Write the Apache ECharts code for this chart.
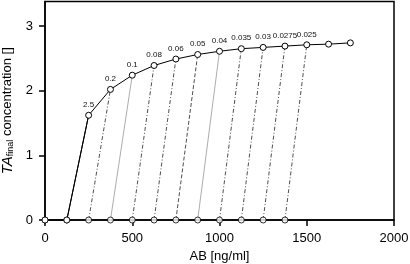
<!DOCTYPE html>
<html>
<head>
<meta charset="utf-8">
<script src="https://cdn.jsdelivr.net/npm/echarts@6/dist/echarts.min.js"></script>
<style>
  html, body { margin: 0; padding: 0; background: #fff; }
  #chart { width: 410px; height: 264px; }
</style>
</head>
<body>
<div id="chart"></div>
<script>
// points on the upper curve
var topX = [250, 375, 500, 625, 750, 875, 1000, 1125, 1250, 1375, 1500, 1625, 1750];
var topY = [1.62, 2.02, 2.24, 2.39, 2.49, 2.56, 2.61, 2.65, 2.67, 2.69, 2.71, 2.72, 2.74];
var topLabels = ['2.5', '0.2', '0.1', '0.08', '0.06', '0.05', '0.04', '0.035', '0.03', '0.0275', '0.025', '', ''];
// points on the x axis
var baseX = [0, 125, 250, 375, 500, 625, 750, 875, 1000, 1125, 1250, 1375];
var xTicks = [0, 500, 1000, 1500, 2000];
var yTicks = [0, 1, 2, 3];

// line look for each connector (from base point to labelled point)
var dashDot = [4, 2, 1, 2];
var connStyles = [
  { color: '#000', type: 'solid', width: 1 },
  { color: '#222', type: dashDot, width: 0.8 },
  { color: '#888', type: 'solid', width: 0.7 },
  { color: '#222', type: dashDot, width: 0.8 },
  { color: '#222', type: dashDot, width: 0.8 },
  { color: '#222', type: [4, 2], width: 0.8 },
  { color: '#888', type: 'solid', width: 0.7 },
  { color: '#222', type: dashDot, width: 0.8 },
  { color: '#222', type: dashDot, width: 0.8 },
  { color: '#222', type: dashDot, width: 0.8 },
  { color: '#222', type: dashDot, width: 0.8 }
];

var chart = echarts.init(document.getElementById('chart'));

var series = [];
for (var i = 0; i < connStyles.length; i++) {
  series.push({
    type: 'line',
    data: [[baseX[i + 1], 0], [topX[i], topY[i]]],
    symbol: 'none',
    lineStyle: connStyles[i],
    silent: true,
    animation: false,
    z: 2
  });
}

// main curve
var mainData = [
  { value: [baseX[0], 0], label: { show: false } },
  { value: [baseX[1], 0], label: { show: false } }
];
for (var j = 0; j < topX.length; j++) {
  mainData.push({ value: [topX[j], topY[j]], label: { formatter: topLabels[j] } });
}
series.push({
  type: 'line',
  data: mainData,
  symbol: 'circle',
  symbolSize: 6,
  showAllSymbol: true,
  itemStyle: { color: '#fff', borderColor: '#000', borderWidth: 1 },
  lineStyle: { color: '#000', width: 1 },
  label: {
    show: true,
    position: 'top',
    distance: 3,
    fontSize: 8,
    fontFamily: 'Liberation Sans',
    color: '#111'
  },
  clip: false,
  animation: false,
  z: 5
});

// base points
series.push({
  type: 'scatter',
  data: baseX.map(function (x) { return [x, 0]; }),
  symbol: 'circle',
  symbolSize: 6,
  itemStyle: { color: '#fff', borderColor: '#000', borderWidth: 1 },
  clip: false,
  animation: false,
  z: 6
});

chart.setOption({
  animation: false,
  grid: {
    left: 45, right: 16, top: 1.5, bottom: 44,
    outerBoundsMode: 'none',
    containLabel: false,
    show: true, borderColor: '#000', borderWidth: 1.5, backgroundColor: 'transparent'
  },
  xAxis: {
    type: 'value',
    min: xTicks[0], max: xTicks[xTicks.length - 1], interval: 500,
    name: 'AB [ng/ml]',
    nameLocation: 'middle',
    nameGap: 27,
    nameTextStyle: { fontSize: 13, fontFamily: 'Liberation Sans', color: '#000' },
    axisLine: { lineStyle: { color: '#000', width: 1.5 } },
    axisTick: { inside: false, length: 6, lineStyle: { color: '#000', width: 1.5 } },
    axisLabel: {
      fontSize: 13, fontFamily: 'Liberation Sans', color: '#000', margin: 12,
      formatter: function (v) { return String(v); }
    },
    splitLine: { show: false }
  },
  yAxis: {
    type: 'value',
    min: yTicks[0], max: 3.38, interval: 1,
    name: '{it|TA}{sub|final}{n| concentration []}',
    nameLocation: 'middle',
    nameGap: 30,
    nameRotate: 90,
    nameTextStyle: {
      fontFamily: 'Liberation Sans', color: '#000',
      rich: {
        it: { fontSize: 15, fontStyle: 'italic', fontFamily: 'Liberation Sans', color: '#000' },
        sub: { fontSize: 9, fontFamily: 'Liberation Sans', color: '#000', verticalAlign: 'bottom', padding: [6, 0, 0, 0] },
        n: { fontSize: 13, fontFamily: 'Liberation Sans', color: '#000' }
      }
    },
    axisLine: { lineStyle: { color: '#000', width: 1.5 } },
    axisTick: { inside: false, length: 6, lineStyle: { color: '#000', width: 1.5 } },
    axisLabel: { fontSize: 13, fontFamily: 'Liberation Sans', color: '#000', margin: 12, showMaxLabel: false },
    splitLine: { show: false }
  },
  series: series
});
</script>
</body>
</html>
